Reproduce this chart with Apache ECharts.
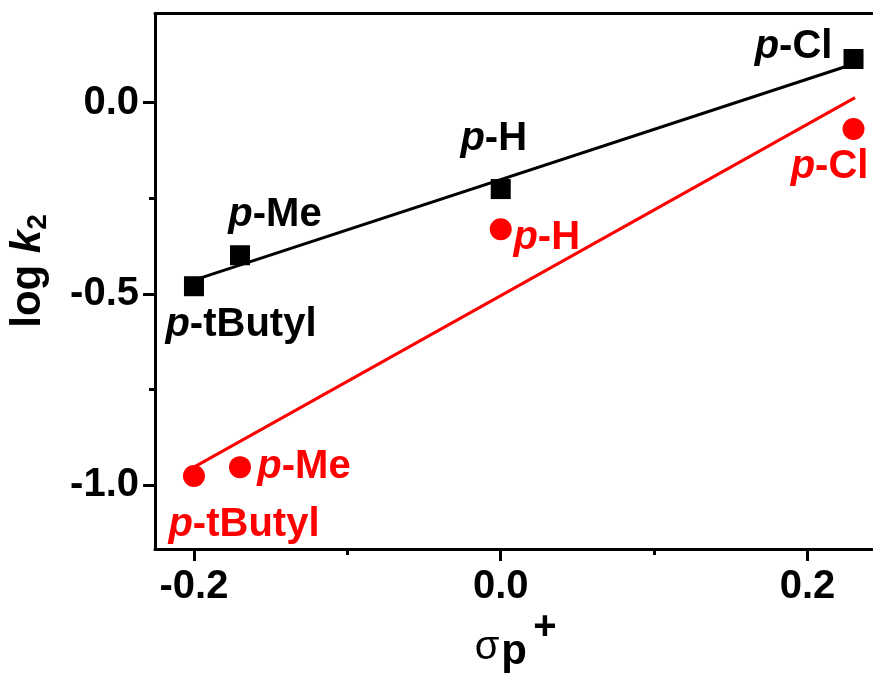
<!DOCTYPE html>
<html>
<head>
<meta charset="utf-8">
<script src="https://cdn.jsdelivr.net/npm/echarts@6/dist/echarts.min.js"></script>
<style>
html,body{margin:0;padding:0;background:#fff;}
#chart{width:873px;height:680px;}
</style>
</head>
<body>
<div id="chart"></div>
<script>
// ---- data ----
const sigma = [-0.2, -0.17, 0.0, 0.23];
const substituents = ['p-tButyl', 'p-Me', 'p-H', 'p-Cl'];
const logK2Black = [-0.480, -0.399, -0.226, 0.114];
const logK2Red = [-0.976, -0.953, -0.331, -0.069];
const fitBlackX = [-0.2, 0.23];
const fitBlackY = [-0.464, 0.101];
const fitRedX = [-0.2, 0.231];
const fitRedY = [-0.953, 0.013];
const xMajorTicks = [-0.2, 0.0, 0.2];
const xMinorTicks = [-0.1, 0.1];
const yMajorTicks = [-1.0, -0.5, 0.0];
const yMinorTicks = [-0.75, -0.25];

// ---- styles (label placement, not data) ----
const blackLabelOffsets = [[47, 39], [35, -40], [-7, -50], [-60, -12]];
const redLabelOffsets = [[50, 49], [64, 0], [46, 9], [-24, 38]];

const FONT = '"Liberation Sans", Arial, sans-serif';
const X_MIN = -0.2254, X_MAX = 0.2427, Y_MIN = -1.167, Y_MAX = 0.233;
const gridRect = {left: 155, top: 13.5, bottom: 131, right: 0};

function pts(xs, ys) { return xs.map((x, i) => [x, ys[i]]); }
function labelFmt(p) { const n = p.data.name; return '{i|' + n[0] + '}{n|' + n.slice(1) + '}'; }
function rich(color) {
  return {
    i: {fontFamily: FONT, fontSize: 40, fontWeight: 'bold', fontStyle: 'italic', color: color},
    n: {fontFamily: FONT, fontSize: 40, fontWeight: 'bold', color: color}
  };
}
function scatterData(ys, offsets) {
  return sigma.map((x, i) => ({
    name: substituents[i],
    value: [x, ys[i]],
    label: {offset: offsets[i]}
  }));
}
function xAxisCfg(grid, ticks, len, main, pos) {
  return {
    type: 'value', gridIndex: grid, min: X_MIN, max: X_MAX, position: pos || 'bottom',
    axisLine: {show: main, onZero: false, lineStyle: {color: '#000', width: 3}},
    axisTick: ticks ? {show: true, inside: false, length: len, customValues: ticks, lineStyle: {color: '#000', width: 3}} : {show: false},
    axisLabel: (main && ticks) ? {show: true, customValues: ticks, margin: 18, fontFamily: FONT, fontSize: 40, fontWeight: 'bold', color: '#000',
      formatter: v => v.toFixed(1)} : {show: false},
    splitLine: {show: false}
  };
}
function yAxisCfg(grid, ticks, len, main) {
  return {
    type: 'value', gridIndex: grid, min: Y_MIN, max: Y_MAX, position: 'left',
    axisLine: {show: main, onZero: false, lineStyle: {color: '#000', width: 3}},
    axisTick: {show: true, inside: false, length: len, customValues: ticks, lineStyle: {color: '#000', width: 3}},
    axisLabel: main ? {show: true, customValues: ticks, margin: 16, fontFamily: FONT, fontSize: 40, fontWeight: 'bold', color: '#000',
      formatter: v => v.toFixed(1)} : {show: false},
    splitLine: {show: false}
  };
}

const chart = echarts.init(document.getElementById('chart'), null, {renderer: 'canvas'});
chart.setOption({
  animation: false,
  backgroundColor: '#fff',
  grid: [
    Object.assign({show: false, containLabel: false}, gridRect),
    Object.assign({show: false, containLabel: false}, gridRect),
    Object.assign({show: false, containLabel: false}, gridRect)
  ],
  xAxis: [
    xAxisCfg(0, xMajorTicks, 12, true, 'bottom'),
    xAxisCfg(1, xMinorTicks, 6, false, 'bottom'),
    xAxisCfg(2, null, 0, true, 'top')
  ],
  yAxis: [yAxisCfg(0, yMajorTicks, 12, true), yAxisCfg(1, yMinorTicks, 6, false), yAxisCfg(2, [], 0, false)],
  series: [
    {type: 'line', xAxisIndex: 0, yAxisIndex: 0, data: pts(fitBlackX, fitBlackY), symbol: 'none',
      lineStyle: {color: '#000', width: 3, opacity: 1}, z: 2, silent: true},
    {type: 'line', xAxisIndex: 0, yAxisIndex: 0, data: pts(fitRedX, fitRedY), symbol: 'none',
      lineStyle: {color: '#ff0000', width: 3, opacity: 1}, z: 2, silent: true},
    {type: 'scatter', xAxisIndex: 0, yAxisIndex: 0, symbol: 'rect', symbolSize: 20,
      itemStyle: {color: '#000', opacity: 1}, z: 3, clip: false,
      label: {show: true, position: 'inside', align: 'center', verticalAlign: 'middle', formatter: labelFmt, rich: rich('#000')},
      data: scatterData(logK2Black, blackLabelOffsets)},
    {type: 'scatter', xAxisIndex: 0, yAxisIndex: 0, symbol: 'circle', symbolSize: 22,
      itemStyle: {color: '#ff0000', opacity: 1}, z: 3, clip: false,
      label: {show: true, position: 'inside', align: 'center', verticalAlign: 'middle', formatter: labelFmt, rich: rich('#ff0000')},
      data: scatterData(logK2Red, redLabelOffsets)}
  ],
  graphic: [
    {type: 'text', x: 28, y: 271, rotation: Math.PI / 2, silent: true,
      style: {text: '{a|log }{k|k}{s|2}', textAlign: 'center', textVerticalAlign: 'middle',
        rich: {
          a: {fontFamily: FONT, fontSize: 42, fontWeight: 'bold', lineHeight: 48, fill: '#000', color: '#000'},
          k: {fontFamily: FONT, fontSize: 42, fontWeight: 'bold', fontStyle: 'italic', lineHeight: 48, fill: '#000', color: '#000'},
          s: {fontFamily: FONT, fontSize: 28, fontWeight: 'bold', lineHeight: 14, verticalAlign: 'bottom', fill: '#000', color: '#000'}
        }}},
    {type: 'text', x: 487, y: 648, silent: true,
      style: {text: 'σ', textAlign: 'center', textVerticalAlign: 'middle', font: 'normal 40px ' + FONT, fill: '#000'}},
    {type: 'text', x: 514, y: 652, silent: true,
      style: {text: 'p', textAlign: 'center', textVerticalAlign: 'middle', font: 'bold 42px ' + FONT, fill: '#000'}},
    {type: 'text', x: 545, y: 628, silent: true,
      style: {text: '+', textAlign: 'center', textVerticalAlign: 'middle', font: 'bold 40px ' + FONT, fill: '#000'}}
  ]
});
</script>
</body>
</html>
